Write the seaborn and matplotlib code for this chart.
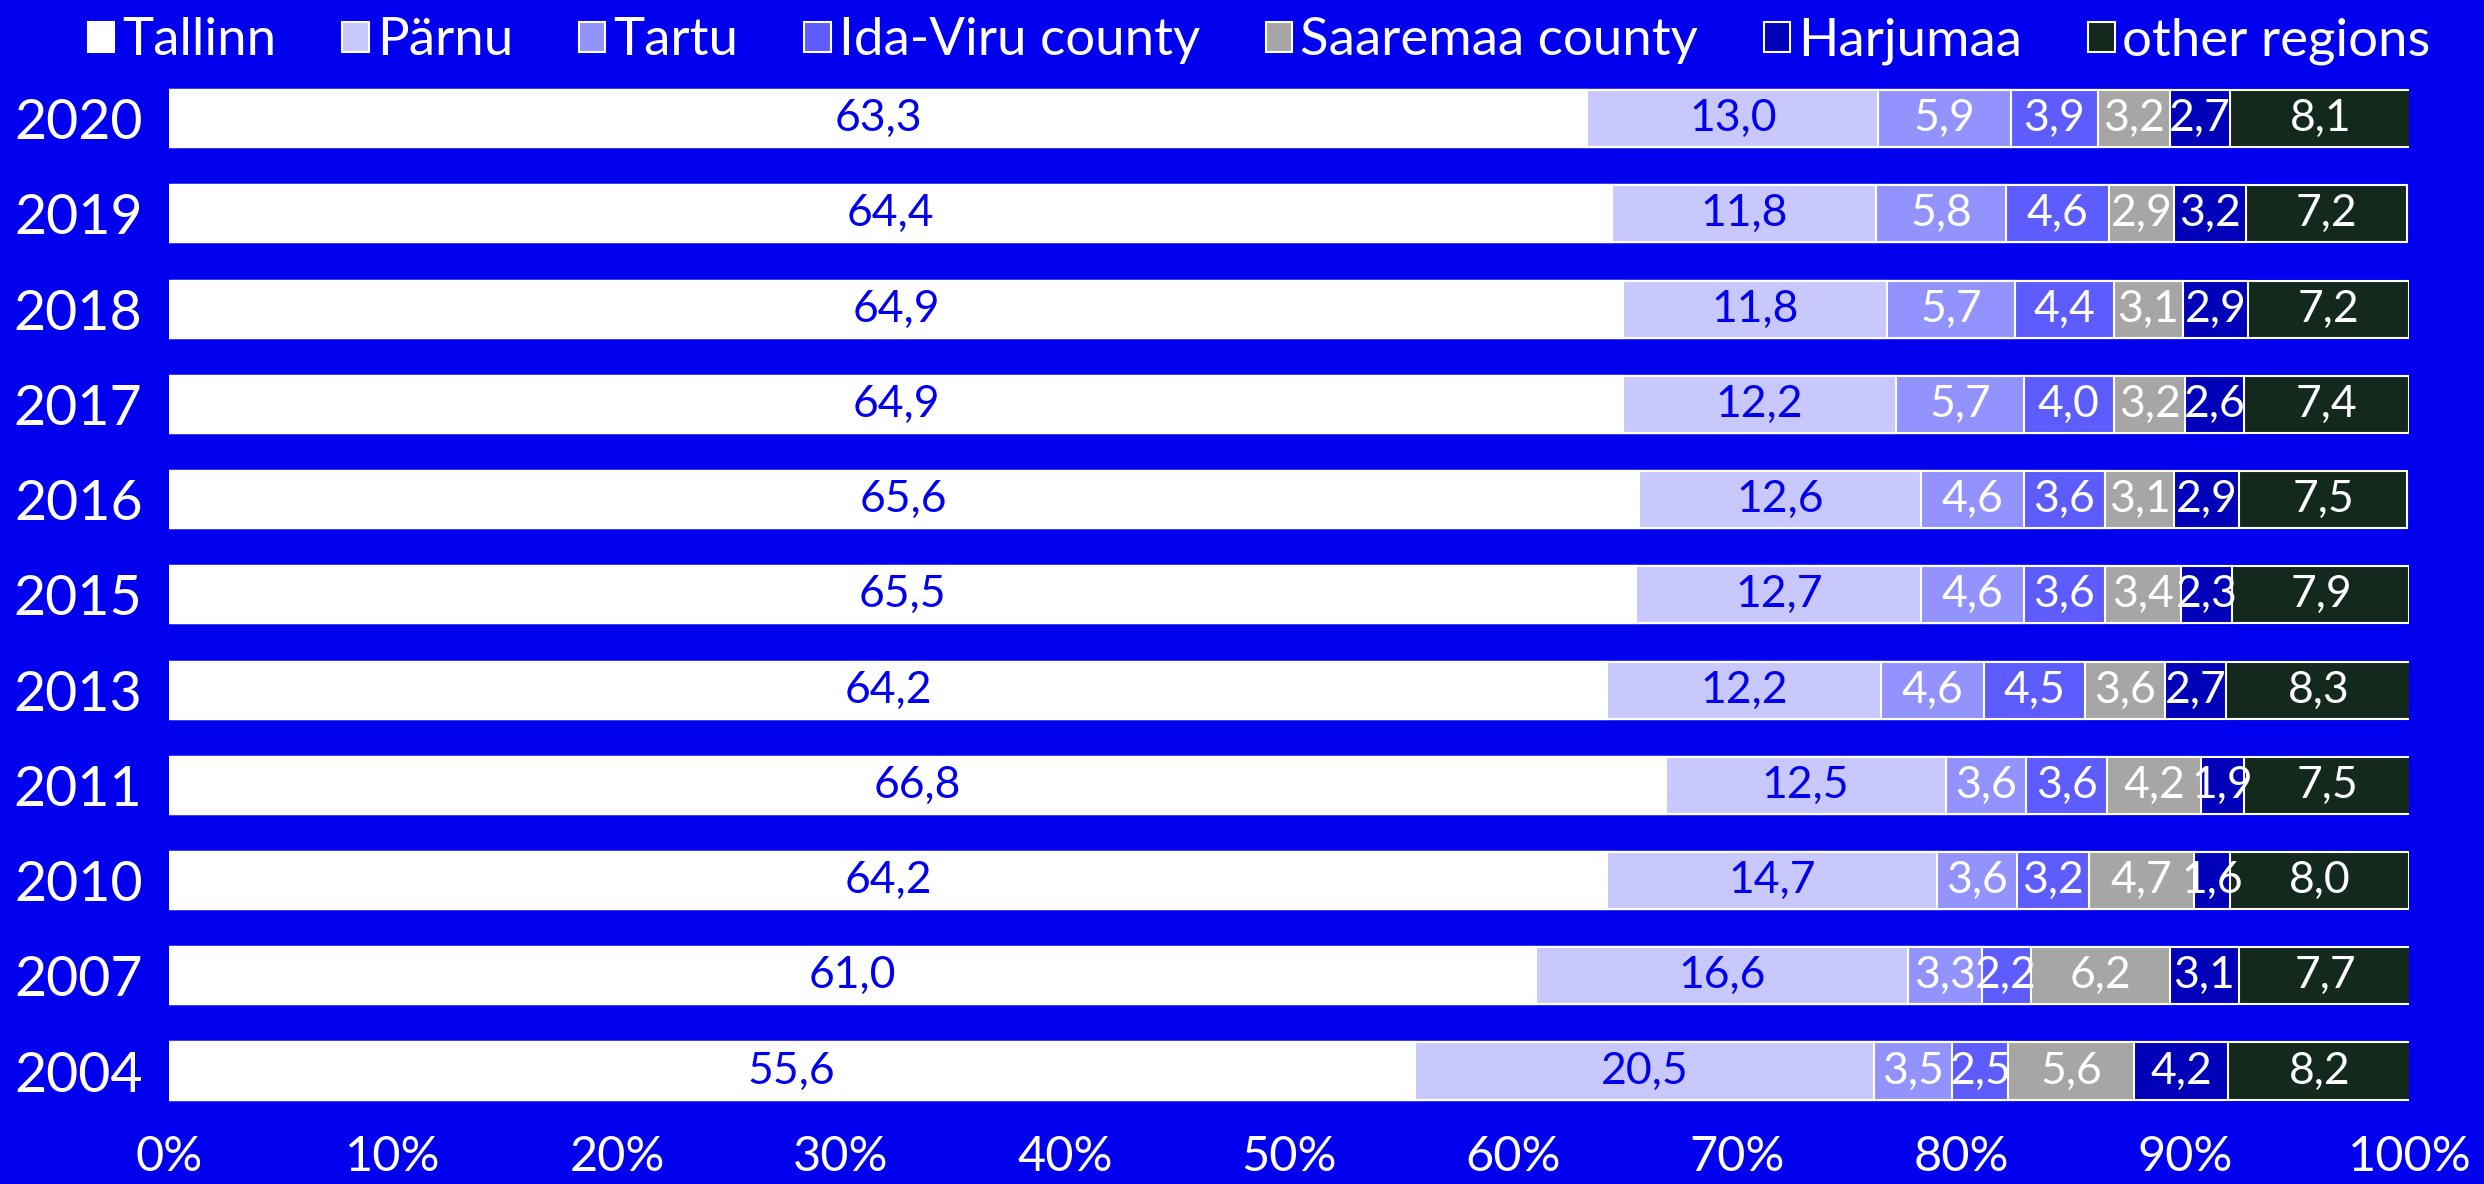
import matplotlib
matplotlib.use("Agg")
import matplotlib.pyplot as plt
import pandas as pd
import numpy as np
import seaborn as sns
from matplotlib.patches import Patch

# datos
years = ["2020", "2019", "2018", "2017", "2016", "2015", "2013", "2011", "2010", "2007", "2004"]
regions = ["Tallinn", "Pärnu", "Tartu", "Ida-Viru county", "Saaremaa county", "Harjumaa", "other regions"]
tallinn = [63.3, 64.4, 64.9, 64.9, 65.6, 65.5, 64.2, 66.8, 64.2, 61.0, 55.6]
parnu = [13.0, 11.8, 11.8, 12.2, 12.6, 12.7, 12.2, 12.5, 14.7, 16.6, 20.5]
tartu = [5.9, 5.8, 5.7, 5.7, 4.6, 4.6, 4.6, 3.6, 3.6, 3.3, 3.5]
ida_viru = [3.9, 4.6, 4.4, 4.0, 3.6, 3.6, 4.5, 3.6, 3.2, 2.2, 2.5]
saaremaa = [3.2, 2.9, 3.1, 3.2, 3.1, 3.4, 3.6, 4.2, 4.7, 6.2, 5.6]
harjumaa = [2.7, 3.2, 2.9, 2.6, 2.9, 2.3, 2.7, 1.9, 1.6, 3.1, 4.2]
other = [8.1, 7.2, 7.2, 7.4, 7.5, 7.9, 8.3, 7.5, 8.0, 7.7, 8.2]

colores = ["#FFFFFF", "#C8C8FF", "#9393FF", "#5C5CFF", "#A6A6A6", "#0000B8", "#13291E"]
color_txt = ["#0000EE", "#0000EE", "white", "white", "white", "white", "white"]
fondo = "#0000EE"

series = [tallinn, parnu, tartu, ida_viru, saaremaa, harjumaa, other]
df = pd.DataFrame({r: v for r, v in zip(regions, series)})
df["year"] = years
acum = df[regions].cumsum(axis=1)

fig = plt.figure(figsize=(24.84, 11.84), dpi=100, facecolor=fondo)
ax = fig.add_axes([0.068, 0.0552, 0.902, 0.8848])
ax.set_facecolor(fondo)

# barras apiladas: se dibuja el acumulado de mayor a menor
for i in range(len(regions) - 1, -1, -1):
    sns.barplot(x=acum[regions[i]], y=df["year"], order=years, color=colores[i],
                orient="h", width=0.6, edgecolor="white", linewidth=1.5,
                saturation=1, ax=ax)

# etiquetas de valores
for i, r in enumerate(regions):
    centros = acum[r] - df[r] / 2
    for j in range(len(years)):
        ax.text(centros[j], j, f"{df[r][j]:.1f}".replace(".", ","),
                ha="center", va="center", color=color_txt[i],
                fontsize=32, family="Lato")

ax.set_xlim(0, 100)
ax.set_ylim(10.5, -0.5)
ax.set_xticks(np.arange(0, 101, 10))
ax.set_xticklabels([f"{t}%" for t in range(0, 101, 10)])
ax.set_xlabel("")
ax.set_ylabel("")
for s in ax.spines.values():
    s.set_visible(False)
ax.tick_params(axis="x", length=0, pad=12, labelsize=35, labelcolor="white")
ax.tick_params(axis="y", length=0, pad=19, labelsize=40, labelcolor="white")
for lab in ax.get_xticklabels() + ax.get_yticklabels():
    lab.set_family("Lato")

handles = [Patch(facecolor=c, edgecolor="white", linewidth=1.5) for c in colores]
leg = fig.legend(handles, regions, loc="upper center", bbox_to_anchor=(0.507, 1.012),
                 ncol=7, frameon=False, handlelength=0.5, handleheight=0.5,
                 handletextpad=0.15, columnspacing=1.25, borderpad=0.1,
                 prop={"family": "Lato", "size": 38})
for t in leg.get_texts():
    t.set_color("white")

fig.savefig("out.png", dpi=100, facecolor=fondo)
